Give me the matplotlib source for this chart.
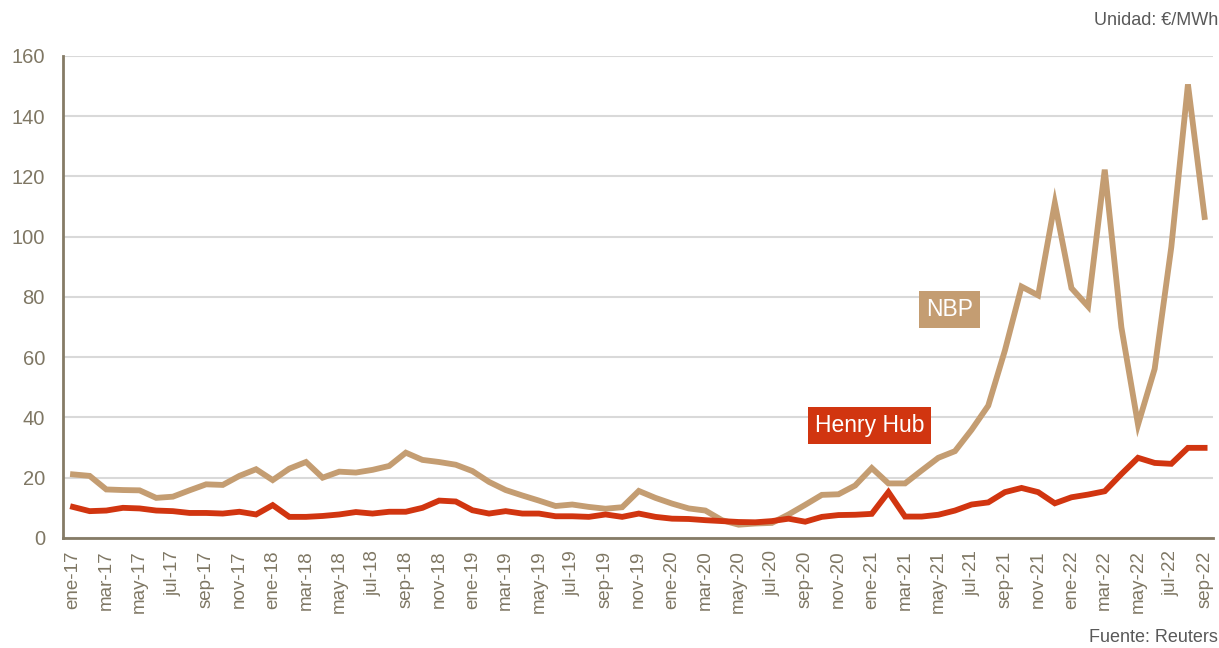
import matplotlib.pyplot as plt
import numpy as np

# Monthly prices, ene-17 .. sep-22 (EUR/MWh)
years = [17, 18, 19, 20, 21, 22]
month_names = ['ene', 'feb', 'mar', 'abr', 'may', 'jun',
               'jul', 'ago', 'sep', 'oct', 'nov', 'dic']

nbp = [21.1, 20.6, 16.1, 15.9, 15.8, 13.3, 13.7, 15.8, 17.8, 17.6, 20.6, 22.8,
       19.2, 23.0, 25.2, 20.0, 22.0, 21.7, 22.6, 23.9, 28.3, 25.9, 25.2, 24.3,
       22.2, 18.6, 15.9, 14.1, 12.4, 10.6, 11.1, 10.3, 9.7, 10.2, 15.6, 13.3,
       11.4, 9.8, 9.1, 5.9, 4.4, 4.8, 5.0, 7.8, 11.0, 14.3, 14.5, 17.4,
       23.2, 18.1, 18.1, 22.4, 26.6, 28.8, 35.9, 43.9, 62.2, 83.4, 80.5, 111.1,
       82.9, 76.8, 122.2, 69.9, 37.6, 56.1, 96.5, 150.5, 106.5]

henry_hub = [10.3, 8.9, 9.1, 10.0, 9.8, 9.1, 8.9, 8.3, 8.3, 8.1, 8.7, 7.8,
             10.9, 7.0, 7.0, 7.3, 7.8, 8.6, 8.1, 8.7, 8.7, 10.0, 12.4, 12.1,
             9.2, 8.1, 8.9, 8.1, 8.1, 7.2, 7.2, 7.0, 7.8, 7.0, 8.1, 7.0,
             6.4, 6.3, 5.9, 5.6, 5.3, 5.2, 5.6, 6.4, 5.4, 7.0, 7.6, 7.7,
             8.0, 15.2, 7.1, 7.1, 7.7, 9.1, 11.1, 11.8, 15.2, 16.6, 15.2, 11.5,
             13.5, 14.4, 15.5, 21.2, 26.6, 24.9, 24.6, 29.9, 29.9]

months = [f'{m}-{y}' for y in years for m in month_names][:len(nbp)]

NBP_COLOR = '#C49D72'
HH_COLOR = '#D13510'
AXIS_COLOR = '#857B66'
TICK_COLOR = '#7F7764'
NOTE_COLOR = '#595959'

plt.rcParams['font.family'] = ['Liberation Sans', 'DejaVu Sans']

fig = plt.figure(figsize=(12.19, 6.48), dpi=100)
ax = fig.add_axes([0.0517, 0.1698, 0.9433, 0.7442])

x = np.arange(len(months))
ax.plot(x, nbp, color=NBP_COLOR, lw=4.2, solid_joinstyle='miter', zorder=3)
ax.plot(x, henry_hub, color=HH_COLOR, lw=4.2, solid_joinstyle='miter', zorder=4)

ax.set_xlim(-0.6, 68.5)
ax.set_ylim(0, 160)
ax.set_yticks(np.arange(0, 161, 20))
ax.set_xticks(x[::2])
ax.set_xticklabels(months[::2], rotation=90)

ax.grid(axis='y', color='#D9D9D9', lw=1.5, zorder=0)
ax.set_axisbelow(True)
for side in ['top', 'right']:
    ax.spines[side].set_visible(False)
for side in ['left', 'bottom']:
    ax.spines[side].set_color(AXIS_COLOR)
    ax.spines[side].set_linewidth(2)

ax.tick_params(axis='y', length=0, pad=13, labelsize=14.5, labelcolor=TICK_COLOR)
ax.tick_params(axis='x', length=0, pad=9, labelsize=13.5, labelcolor=TICK_COLOR)

# Series tags
ax.text(52.65, 75.7, 'NBP', fontsize=16.5, color='white', ha='center', va='center',
        bbox=dict(boxstyle='square,pad=0.3', fc=NBP_COLOR, ec='none'), zorder=5)
ax.text(47.85, 37.3, 'Henry Hub', fontsize=16.5, color='white', ha='center', va='center',
        bbox=dict(boxstyle='square,pad=0.3', fc=HH_COLOR, ec='none'), zorder=5)

fig.text(0.999, 0.969, 'Unidad: €/MWh', ha='right', va='center', fontsize=13, color=NOTE_COLOR)
fig.text(0.999, 0.016, 'Fuente: Reuters', ha='right', va='center', fontsize=13, color=NOTE_COLOR)

fig.savefig('out.png', dpi=100)
